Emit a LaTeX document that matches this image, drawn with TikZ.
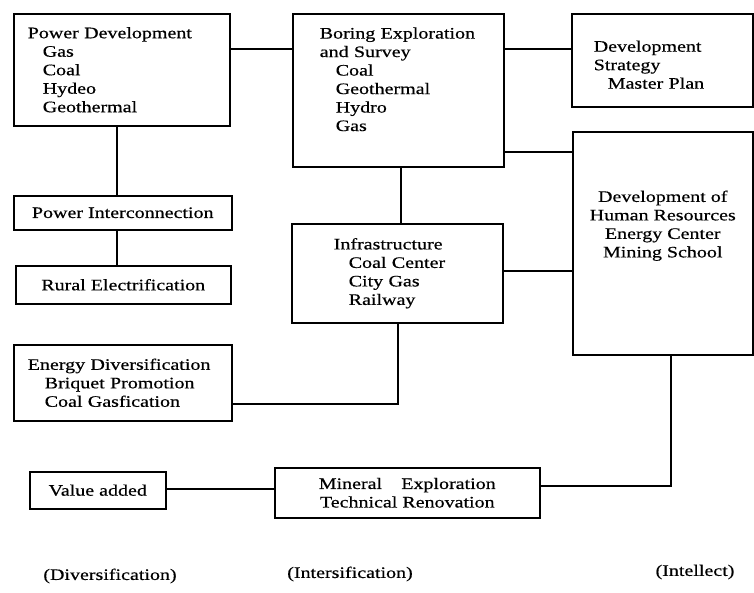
\documentclass[tikz,border=0pt]{standalone}
\usepackage{fontspec}
\setmainfont[FakeStretch=1.25,FakeBold=0.5]{Liberation Serif}
\begin{document}
\begin{tikzpicture}[x=1pt,y=-1pt,
  box/.style={draw, line width=1.5pt, inner xsep=0pt, inner ysep=0pt, anchor=north west, align=left},
  cbox/.style={draw, line width=1.5pt, inner sep=0pt, anchor=north west, align=center},
  link/.style={line width=1.3pt},
  lab/.style={inner sep=0pt},
  every node/.append style={font=\fontsize{16}{18.5}\selectfont}]
\useasboundingbox (0,0) rectangle (754,592);
% boxes
\node[box, minimum width=216, minimum height=112, text width=188] (pd) at (13,13)
  {Power Development\\\hspace*{15pt}Gas\\\hspace*{15pt}Coal\\\hspace*{15pt}Hydeo\\\hspace*{15pt}Geothermal};
\node[box, minimum width=211, minimum height=153, text width=157] (bor) at (292,13)
  {Boring Exploration\\and Survey\\\hspace*{16pt}Coal\\\hspace*{16pt}Geothermal\\\hspace*{16pt}Hydro\\\hspace*{16pt}Gas\rule[-22pt]{0pt}{1pt}};
\node[box, minimum width=181, minimum height=93, text width=137] (ds) at (571,13)
  {\rule{0pt}{20pt}Development\\Strategy\\\hspace*{14pt}Master Plan};
\node[cbox, minimum width=180, minimum height=223] (hr) at (572,131)
  {Development of\\Human Resources\\Energy Center\\Mining School\\[20pt]};
\node[box, minimum width=211, minimum height=99, text width=127] (inf) at (291,223)
  {Infrastructure\\\hspace*{15pt}Coal Center\\\hspace*{15pt}City Gas\\\hspace*{15pt}Railway};
\node[cbox, minimum width=218, minimum height=34] (pi) at (13,195) {Power Interconnection};
\node[cbox, minimum width=215, minimum height=38] (re) at (15,265) {Rural Electrification};
\node[box, minimum width=218, minimum height=76, text width=190] (ed) at (13,344)
  {Energy Diversification\\\hspace*{17pt}Briquet Promotion\\\hspace*{17pt}Coal Gasfication};
\node[cbox, minimum width=136, minimum height=37] (va) at (29,471) {Value added};
\node[cbox, minimum width=265, minimum height=50] (min) at (274,467)
  {Mineral\hspace{1.2em}Exploration\\Technical Renovation};
% helper coordinates
\coordinate (yA) at (0,49);
\coordinate (yB) at (0,152);
\coordinate (yC) at (0,271);
\coordinate (xD) at (401,0);
\coordinate (xE) at (398,0);
\coordinate (yE) at (0,404);
\coordinate (xF) at (117,0);
\coordinate (yG) at (0,489);
\coordinate (xH) at (671,0);
\coordinate (yH) at (0,486);
% connectors
\draw[link] (pd.east |- yA) -- (bor.west |- yA);
\draw[link] (bor.east |- yA) -- (ds.west |- yA);
\draw[link] (bor.east |- yB) -- (hr.west |- yB);
\draw[link] (bor.south -| xD) -- (inf.north -| xD);
\draw[link] (inf.east |- yC) -- (hr.west |- yC);
\draw[link] (inf.south -| xE) -- (xE |- yE) -- (ed.east |- yE);
\draw[link] (pd.south -| xF) -- (pi.north -| xF);
\draw[link] (pi.south -| xF) -- (re.north -| xF);
\draw[link] (va.east |- yG) -- (min.west |- yG);
\draw[link] (hr.south -| xH) -- (xH |- yH) -- (min.east |- yH);
% bottom labels
\node[lab] (l1) at (110,576) {(Diversification)};
\node[lab] (l2) at (350,574) {(Intersification)};
\node[lab] (l3) at (695,572) {(Intellect)};
\end{tikzpicture}
\end{document}
